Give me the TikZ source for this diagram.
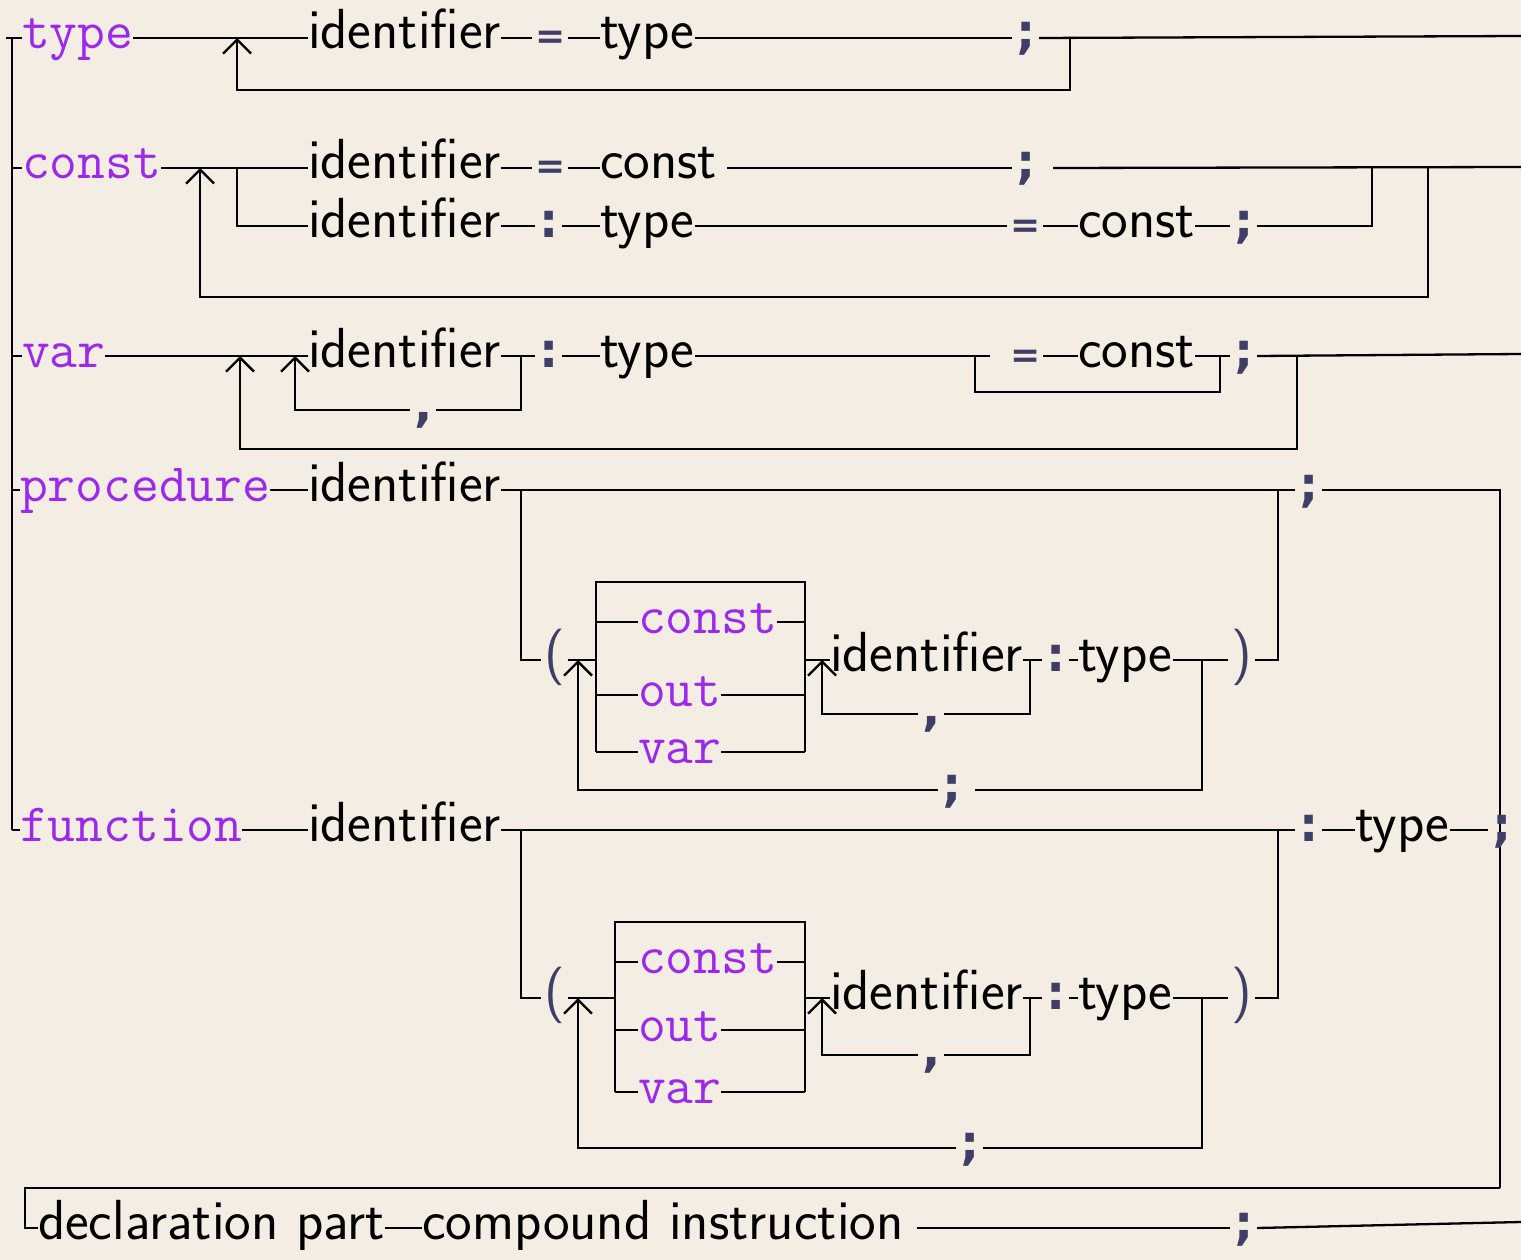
\documentclass[tikz,border=0pt]{standalone}
\usepackage{fontspec}
\newfontfamily\pfont{DejaVu Sans}
\usetikzlibrary{arrows.meta}
\definecolor{bg}{RGB}{243,237,228}
\definecolor{kwc}{RGB}{155,40,235}
\definecolor{pc}{RGB}{62,62,102}
\tikzset{
 txt/.style={inner sep=0pt, outer sep=0pt, anchor=west, text height=22pt, text depth=0pt},
 kw/.style={txt, text=kwc, font=\fontsize{54}{60}\selectfont\ttfamily},
 nt/.style={txt, font=\fontsize{56.5}{60}\selectfont\sffamily},
 pu/.style={txt, text=pc, inner xsep=4pt, font=\fontsize{48}{50}\selectfont\pfont\bfseries},
 eqs/.style={txt, text=pc, inner xsep=3pt, font=\fontsize{36}{50}\selectfont\pfont\bfseries},
 par/.style={txt, text=pc, inner xsep=3pt, font=\fontsize{56.5}{60}\selectfont\sffamily},
 ln/.style={line width=2.3pt, black},
 lp/.style={ln, -{Straight Barb[length=14pt,width=28pt,line width=2.3pt]}},
}
\begin{document}
\begin{tikzpicture}[x=1pt,y=-1pt]
\fill[bg] (0,0) rectangle (1521,1260);
\useasboundingbox (0,0) rectangle (1521,1260);

% ---------- row 1: type
\node[kw] (k1) at (22,38) {type};
\node[nt] (i1) at (308,38) {identifier};
\node[eqs] (e1) at (532,38) {=};
\node[nt] (t1) at (600,38) {type};
\node[pu] (s1) at (1012,38) {;};
\coordinate (x1) at (1521,36);
\draw[ln] (k1.east) -- (i1.west);
\draw[ln] (i1.east) -- (e1.west);
\draw[ln] (e1.east) -- (t1.west);
\draw[ln] (t1.east) -- (s1.west);
\draw[ln] (s1.east) -- (x1);
\coordinate (l1a) at (1070,38);
\coordinate (l1e) at (237,38);
\draw[lp] (l1a) -- (1070,90) -- (237,90) -- (l1e);

% ---------- row 2: const
\node[kw] (k2) at (22,168) {const};
\node[nt] (i2) at (308,168) {identifier};
\node[eqs] (e2) at (532,168) {=};
\node[nt] (c2) at (600,168) {const};
\node[pu] (s2) at (1012,168) {;};
\coordinate (x2) at (1521,167);
\draw[ln] (k2.east) -- (i2.west);
\draw[ln] (i2.east) -- (e2.west);
\draw[ln] (e2.east) -- (c2.west);
\draw[ln] ([xshift=10pt]c2.east) -- (s2.west);
\draw[ln] ([xshift=14pt]s2.east) -- (x2);
\node[nt] (i2b) at (308,226) {identifier};
\node[pu] (o2b) at (535,226) {:};
\node[nt] (t2b) at (600,226) {type};
\node[eqs] (e2b) at (1007,226) {=};
\node[nt] (c2b) at (1078,226) {const};
\node[pu] (s2b) at (1230,226) {;};
\coordinate (j2a) at (237,168);
\coordinate (j2b) at (1372,168);
\draw[ln] (j2a) |- (i2b.west);
\draw[ln] (i2b.east) -- (o2b.west);
\draw[ln] (o2b.east) -- (t2b.west);
\draw[ln] (t2b.east) -- (e2b.west);
\draw[ln] (e2b.east) -- (c2b.west);
\draw[ln] (c2b.east) -- (s2b.west);
\draw[ln] (s2b.east) -| (j2b);
\coordinate (l2a) at (1428,168);
\coordinate (l2e) at (200,168);
\draw[lp] (l2a) -- (1428,297) -- (200,297) -- (l2e);

% ---------- row 3: var
\node[kw] (k3) at (22,356) {var};
\node[nt] (i3) at (308,356) {identifier};
\node[pu] (o3) at (535,356) {:};
\node[nt] (t3) at (600,356) {type};
\node[eqs] (e3) at (1007,356) {=};
\node[nt] (c3) at (1078,356) {const};
\node[pu] (s3) at (1230,356) {;};
\node[pu] (m3) at (410,410) {,};
\coordinate (x3) at (1521,354);
\draw[ln] (k3.east) -- (i3.west);
\draw[ln] (i3.east) -- (o3.west);
\draw[ln] (o3.east) -- (t3.west);
\draw[ln] (t3.east) -- (990,356);
\draw[ln] (e3.east) -- (c3.west);
\draw[ln] (c3.east) -- (s3.west);
\draw[ln] (s3.east) -- (x3);
\coordinate (j3a) at (521,356);
\coordinate (j3e) at (295,356);
\draw[ln] (j3a) |- (m3.east);
\draw[lp] (m3.west) -| (j3e);
\coordinate (j3b) at (975,356);
\coordinate (j3c) at (1220,356);
\draw[ln] (j3b) -- (975,392) -| (j3c);
\coordinate (l3a) at (1297,356);
\coordinate (l3e) at (240,356);
\draw[lp] (l3a) -- (1297,449) -- (240,449) -- (l3e);

% ---------- row 4: procedure
\node[kw] (k4) at (20,490) {procedure};
\node[nt] (i4) at (308,490) {identifier};
\node[pu] (s4) at (1295,490) {;};
\coordinate (r4) at (1500,490);
\coordinate (r6) at (1500,1188);
\draw[ln] (k4.east) -- (i4.west);
\draw[ln] (i4.east) -- (s4.west);
\draw[ln] (s4.east) -- (r4) -- (r6);
\node[par] (a4) at (541,660) {(};
\coordinate (j4a) at (521,490);
\draw[ln] (j4a) |- (a4.west);
\draw[ln] (a4.east) -- (596,660);
\draw[ln] (596,752) -- (596,582) -- (805,582) -- (805,752);
\node[kw] (q4a) at (638,622) {const};
\node[kw] (q4b) at (638,695) {out};
\node[kw] (q4c) at (638,752) {var};
\draw[ln] (596,622) -- (q4a.west);
\draw[ln] (q4a.east) -- (805,622);
\draw[ln] (596,695) -- (q4b.west);
\draw[ln] (q4b.east) -- (805,695);
\draw[ln] (596,752) -- (q4c.west);
\draw[ln] (q4c.east) -- (805,752);
\node[nt] (i4p) at (830,660) {identifier};
\node[pu] (o4p) at (1042,660) {:};
\node[nt] (t4p) at (1078,660) {type};
\node[par] (b4) at (1228,660) {)};
\draw[ln] (805,660) -- (i4p.west);
\draw[ln] (i4p.east) -- (o4p.west);
\draw[ln] (o4p.east) -- (t4p.west);
\draw[ln] (t4p.east) -- (b4.west);
\coordinate (j4b) at (1278,490);
\draw[ln] (b4.east) -| (j4b);
\node[pu] (m4) at (918,714) {,};
\coordinate (j4c) at (1030,660);
\coordinate (j4d) at (822,660);
\draw[ln] (j4c) |- (m4.east);
\draw[lp] (m4.west) -| (j4d);
\node[pu] (sl4) at (938,790) {;};
\coordinate (j4f) at (1202,660);
\coordinate (j4g) at (578,660);
\draw[ln] (j4f) |- ([xshift=10pt]sl4.east);
\draw[lp] (sl4.west) -| (j4g);

% ---------- row 5: function
\node[kw] (k5) at (20,830) {function};
\node[nt] (i5) at (308,830) {identifier};
\node[pu] (o5) at (1295,830) {:};
\node[nt] (t5) at (1355,830) {type};
\node[pu] (s5) at (1488,830) {;};
\draw[ln] (k5.east) -- (i5.west);
\draw[ln] (i5.east) -- (o5.west);
\draw[ln] (o5.east) -- (t5.west);
\draw[ln] (t5.east) -- (s5.west);
\node[par] (a5) at (541,998) {(};
\coordinate (j5a) at (521,830);
\draw[ln] (j5a) |- (a5.west);
\draw[ln] (a5.east) -- (615,998);
\draw[ln] (615,1092) -- (615,922) -- (805,922) -- (805,1092);
\node[kw] (q5a) at (638,962) {const};
\node[kw] (q5b) at (638,1030) {out};
\node[kw] (q5c) at (638,1092) {var};
\draw[ln] (615,962) -- (q5a.west);
\draw[ln] (q5a.east) -- (805,962);
\draw[ln] (615,1030) -- (q5b.west);
\draw[ln] (q5b.east) -- (805,1030);
\draw[ln] (615,1092) -- (q5c.west);
\draw[ln] (q5c.east) -- (805,1092);
\node[nt] (i5p) at (830,998) {identifier};
\node[pu] (o5p) at (1042,998) {:};
\node[nt] (t5p) at (1078,998) {type};
\node[par] (b5) at (1228,998) {)};
\draw[ln] (805,998) -- (i5p.west);
\draw[ln] (i5p.east) -- (o5p.west);
\draw[ln] (o5p.east) -- (t5p.west);
\draw[ln] (t5p.east) -- (b5.west);
\coordinate (j5b) at (1278,830);
\draw[ln] (b5.east) -| (j5b);
\node[pu] (m5) at (918,1055) {,};
\coordinate (j5c) at (1030,998);
\coordinate (j5d) at (822,998);
\draw[ln] (j5c) |- (m5.east);
\draw[lp] (m5.west) -| (j5d);
\node[pu] (sl5) at (956,1148) {;};
\coordinate (j5f) at (1202,998);
\coordinate (j5g) at (578,998);
\draw[ln] (j5f) |- (sl5.east);
\draw[lp] (sl5.west) -| (j5g);

% ---------- left rail
\coordinate (rt) at (12,38);
\coordinate (rb) at (12,830);
\draw[ln] (6,38) -- (k1.west);
\draw[ln] (rt) -- (rb);
\draw[ln] (12,168) -- (k2.west);
\draw[ln] (12,356) -- (k3.west);
\draw[ln] (12,490) -- (k4.west);
\draw[ln] (rb) -- (k5.west);

% ---------- bottom
\node[nt] (dp) at (38,1228) {declaration part};
\node[nt] (ci) at (422,1228) {compound instruction};
\node[pu] (s6) at (1230,1228) {;};
\coordinate (x6) at (1521,1222);
\draw[ln] (r6) -- (25,1188) |- (dp.west);
\draw[ln] (dp.east) -- (ci.west);
\draw[ln] ([xshift=13pt]ci.east) -- (s6.west);
\draw[ln] (s6.east) -- (x6);
\end{tikzpicture}
\end{document}
